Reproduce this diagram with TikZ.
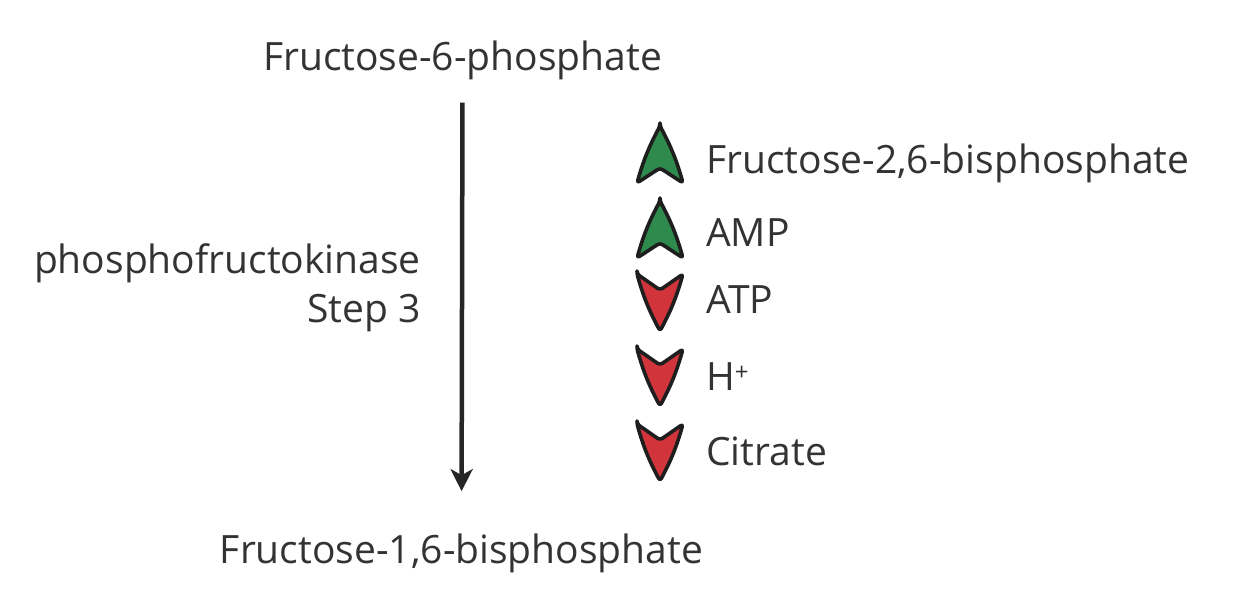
\documentclass[tikz,border=0pt]{standalone}
\usepackage{fontspec}
\setmainfont{Open Sans}
\usetikzlibrary{arrows.meta}
\definecolor{txt}{HTML}{333333}
\definecolor{upgreen}{HTML}{2F8A4E}
\definecolor{downred}{HTML}{D1343A}
\definecolor{edge}{HTML}{1E1E1E}
\tikzset{
  lbl/.style={inner sep=0pt, text=txt, font=\fontsize{39}{44}\selectfont},
  upchev/.style={fill=upgreen, draw=edge, line width=3.6pt, line join=round, rounded corners=3pt},
  downchev/.style={fill=downred, draw=edge, line width=3.6pt, line join=round, rounded corners=3pt},
  flow/.style={draw=black!85, line width=4.5pt, -{Stealth[length=22pt,width=22pt,inset=6pt]}}
}
\begin{document}
\begin{tikzpicture}[x=1pt,y=1pt]
\useasboundingbox[fill=white] (0,0) rectangle (1234,-606);
% main texts
\node[lbl, anchor=base] (f6p) at (462.5,-70) {Fructose-6-phosphate};
\node[lbl, anchor=base] (f16bp) at (461.5,-563) {Fructose-1,6-bisphosphate};
\node[lbl, anchor=base east] (enz) at (421,-273) {phosphofructokinase};
\node[lbl, anchor=base east] (step) at (421,-322) {Step 3};
% main arrow
\draw[flow, shorten <=23pt, shorten >=42pt] (f6p.south) -- (f16bp.north);
% activators (up chevrons)
\foreach \t in {126, 201}{
  \path[upchev] (660,-\t) to[bend left=6] (683,-\t-57) -- (660,-\t-42) -- (637,-\t-57) to[bend left=6] cycle;
}
% inhibitors (down chevrons)
\foreach \t in {274, 349, 424}{
  \path[downchev] (637,-\t) -- (660,-\t-16) -- (683,-\t) to[bend left=6] (660,-\t-57) to[bend left=6] cycle;
}
% effector labels
\node[lbl, anchor=base west] (f26bp) at (706,-173) {Fructose-2,6-bisphosphate};
\node[lbl, anchor=base west] (amp) at (706,-246) {AMP};
\node[lbl, anchor=base west] (atp) at (706,-313) {ATP};
\node[lbl, anchor=base west] (hplus) at (706,-390) {H\raisebox{10pt}{\fontsize{24}{24}\selectfont +}};
\node[lbl, anchor=base west] (cit) at (706,-465) {Citrate};
\end{tikzpicture}
\end{document}
